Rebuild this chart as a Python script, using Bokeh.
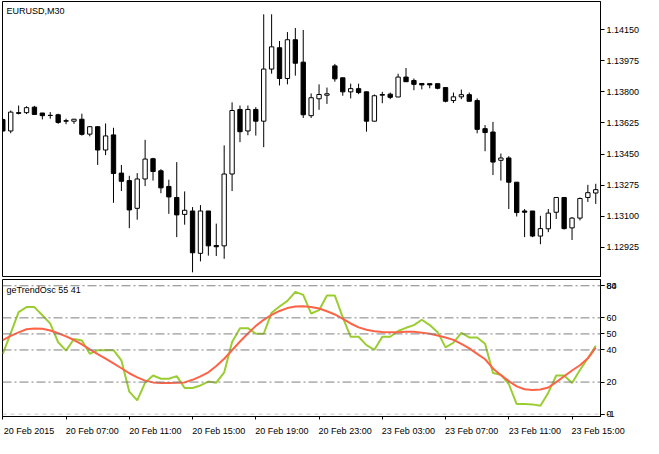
from bokeh.plotting import figure
from bokeh.layouts import column
from bokeh.models import (Range1d, FixedTicker, LinearAxis, Span, Label,
                          ColumnDataSource, PrintfTickFormatter)
from bokeh.embed import file_html
from bokeh.resources import INLINE

FONT = "Liberation Sans"

symbol_title = "EURUSD,M30"
osc_title = "geTrendOsc 55 41"

open_prices = [1.13644, 1.13580, 1.13683, 1.13683, 1.13714, 1.13681, 1.13668, 1.13671, 1.13638, 1.13635,
               1.13646, 1.13562, 1.13604, 1.13473, 1.13558, 1.13343, 1.13301, 1.13145, 1.13310, 1.13424,
               1.13356, 1.13268, 1.13206, 1.13111, 1.13130, 1.12892, 1.13130, 1.12936, 1.12934, 1.13338,
               1.13701, 1.13580, 1.13701, 1.13635, 1.13928, 1.14048, 1.13875, 1.14093, 1.13967, 1.13666,
               1.13761, 1.13781, 1.13946, 1.13879, 1.13800, 1.13818, 1.13800, 1.13635, 1.13781, 1.13787,
               1.13771, 1.13883, 1.13864, 1.13847, 1.13846, 1.13846, 1.13824, 1.13751, 1.13772, 1.13784,
               1.13751, 1.13593, 1.13574, 1.13415, 1.13428, 1.13292, 1.13130, 1.13130, 1.12989, 1.13030,
               1.13123, 1.13206, 1.13035, 1.13090, 1.13206, 1.13231]
high_prices = [1.13650, 1.13695, 1.13723, 1.13719, 1.13721, 1.13681, 1.13686, 1.13677, 1.13649, 1.13648,
               1.13677, 1.13607, 1.13605, 1.13622, 1.13598, 1.13389, 1.13328, 1.13343, 1.13530, 1.13429,
               1.13365, 1.13306, 1.13405, 1.13240, 1.13152, 1.13163, 1.13130, 1.13059, 1.13499, 1.13741,
               1.13723, 1.13723, 1.13714, 1.14236, 1.14236, 1.14086, 1.14136, 1.14159, 1.14148, 1.13791,
               1.13842, 1.13824, 1.13957, 1.13879, 1.13846, 1.13846, 1.13802, 1.13785, 1.13800, 1.13796,
               1.13902, 1.13934, 1.13875, 1.13847, 1.13846, 1.13846, 1.13824, 1.13796, 1.13813, 1.13796,
               1.13763, 1.13613, 1.13631, 1.13453, 1.13438, 1.13292, 1.13141, 1.13130, 1.13103, 1.13141,
               1.13206, 1.13206, 1.13096, 1.13206, 1.13277, 1.13283]
low_prices = [1.13575, 1.13567, 1.13673, 1.13675, 1.13672, 1.13645, 1.13649, 1.13620, 1.13618, 1.13620,
              1.13554, 1.13550, 1.13389, 1.13444, 1.13176, 1.13242, 1.13033, 1.13081, 1.13270, 1.13301,
              1.13230, 1.13114, 1.12983, 1.13053, 1.12785, 1.12847, 1.12879, 1.12877, 1.12861, 1.13242,
              1.13517, 1.13556, 1.13554, 1.13489, 1.13902, 1.13836, 1.13842, 1.13891, 1.13653, 1.13653,
              1.13699, 1.13732, 1.13857, 1.13778, 1.13763, 1.13787, 1.13576, 1.13634, 1.13736, 1.13759,
              1.13771, 1.13857, 1.13809, 1.13814, 1.13820, 1.13814, 1.13741, 1.13737, 1.13759, 1.13747,
              1.13567, 1.13466, 1.13332, 1.13301, 1.13141, 1.13099, 1.12983, 1.12983, 1.12943, 1.13011,
              1.13085, 1.13026, 1.12967, 1.13077, 1.13181, 1.13170]
close_prices = [1.13580, 1.13686, 1.13679, 1.13711, 1.13673, 1.13666, 1.13667, 1.13628, 1.13635, 1.13646,
                1.13561, 1.13604, 1.13473, 1.13552, 1.13341, 1.13297, 1.13136, 1.13310, 1.13422, 1.13352,
                1.13260, 1.13209, 1.13108, 1.13134, 1.12895, 1.13130, 1.12934, 1.12929, 1.13338, 1.13695,
                1.13576, 1.13701, 1.13635, 1.13928, 1.14053, 1.13875, 1.14093, 1.13961, 1.13671, 1.13767,
                1.13785, 1.13789, 1.13873, 1.13800, 1.13818, 1.13796, 1.13635, 1.13778, 1.13785, 1.13769,
                1.13883, 1.13857, 1.13842, 1.13839, 1.13839, 1.13820, 1.13747, 1.13772, 1.13784, 1.13747,
                1.13589, 1.13571, 1.13405, 1.13428, 1.13292, 1.13121, 1.13123, 1.12989, 1.13031, 1.13118,
                1.13206, 1.13031, 1.13090, 1.13200, 1.13233, 1.13250]

osc_fast = [37.6, 50.5, 63.6, 66.7, 66.7, 61.6, 56.4, 44.8, 39.6, 46.8,
            45.9, 37.6, 39.9, 39.9, 39.9, 33.5, 14.0, 8.6, 19.6, 24.1,
            22.1, 22.1, 23.7, 16.3, 16.3, 17.9, 20.3, 19.6, 26.0, 44.9,
            53.6, 53.6, 50.1, 50.1, 63.2, 67.1, 70.6, 76.2, 74.3, 62.7,
            64.8, 73.9, 73.9, 60.3, 48.2, 48.2, 43.0, 40.1, 48.2, 48.2,
            51.8, 53.8, 55.5, 58.8, 55.5, 51.1, 41.6, 44.5, 50.7, 47.8,
            47.8, 43.9, 25.6, 24.6, 18.8, 6.3, 6.3, 6.1, 5.3, 13.4,
            24.1, 24.1, 19.4, 27.5, 34.8, 42.6]
osc_slow = [46.2, 48.8, 51.0, 52.9, 53.4, 53.2, 52.1, 50.4, 48.5, 46.2,
            43.5, 40.4, 37.4, 34.6, 31.6, 28.6, 25.5, 22.9, 20.9, 19.8,
            19.4, 19.4, 19.5, 19.8, 21.4, 23.5, 26.1, 30.0, 34.5, 39.8,
            45.3, 50.3, 55.0, 58.8, 61.8, 64.3, 66.1, 67.1, 67.3, 66.8,
            65.8, 64.1, 62.1, 59.4, 56.5, 54.1, 52.6, 51.7, 51.2, 51.1,
            51.1, 51.4, 51.3, 50.8, 50.1, 49.0, 47.8, 46.3, 43.8, 41.0,
            37.6, 34.2, 28.5, 24.3, 20.6, 17.3, 15.5, 15.0, 15.4, 16.6,
            20.0, 23.6, 27.2, 30.5, 34.8, 41.5]

price_ticks = [1.14150, 1.13975, 1.13800, 1.13625, 1.13450, 1.13275, 1.13100, 1.12925]
osc_levels = [80, 60, 50, 40, 20]
osc_zero_level = 0
osc_ticks = [0, 20, 40, 50, 60, 80]
osc_window_max = 83.9
osc_window_min = -1.45
osc_max_label = "84"
osc_min_label = "-1"
time_labels = ["20 Feb 2015", "20 Feb 07:00", "20 Feb 11:00", "20 Feb 15:00", "20 Feb 19:00",
               "20 Feb 23:00", "23 Feb 03:00", "23 Feb 07:00", "23 Feb 11:00", "23 Feb 15:00"]
time_label_bars = [0, 8, 16, 24, 32, 40, 48, 56, 64, 72]

n = len(open_prices)
bars = list(range(n))
up = [c >= o for o, c in zip(open_prices, close_prices)]
src = ColumnDataSource(dict(
    x=bars, high=high_prices, low=low_prices,
    top=[max(o, c) for o, c in zip(open_prices, close_prices)],
    bottom=[min(o, c) for o, c in zip(open_prices, close_prices)],
    fill=["white" if u else "black" for u in up],
))

W = 643
x_range = Range1d(-0.04, 75.6)

# ---------- price panel ----------
p1 = figure(width=W, height=277, x_range=x_range, y_range=Range1d(1.12756, 1.14308),
            output_backend="svg", toolbar_location=None, x_axis_location=None,
            y_axis_location="right", min_border_left=2, min_border_right=43,
            min_border_top=1, min_border_bottom=0)
p1.grid.visible = False
p1.outline_line_color = "black"
p1.background_fill_color = "white"
p1.border_fill_color = "white"
ya = p1.yaxis[0]
ya.ticker = FixedTicker(ticks=price_ticks)
ya.formatter = PrintfTickFormatter(format="%.5f")
ya.major_tick_out = 4
ya.major_tick_in = 0
ya.minor_tick_out = 0
ya.minor_tick_in = 0
ya.axis_line_color = "black"
ya.major_tick_line_color = "black"
ya.major_label_text_font = FONT
ya.major_label_text_font_size = "9px"
ya.major_label_text_color = "black"
ya.major_label_standoff = 2

p1.segment(x0="x", y0="low", x1="x", y1="high", source=src, line_color="black", line_width=1)
p1.vbar(x="x", top="top", bottom="bottom", width=0.55, source=src,
        fill_color="fill", line_color="black", line_width=1)
p1.add_layout(Label(x=x_range.start, y=1.14308, x_offset=4, y_offset=-4, text=symbol_title,
                    text_baseline="top", text_align="left", text_font=FONT,
                    text_font_size="9px", text_color="black"))

# ---------- oscillator panel ----------
p2 = figure(width=W, height=161, x_range=x_range, y_range=Range1d(osc_window_min, osc_window_max),
            output_backend="svg", toolbar_location=None, x_axis_location=None,
            y_axis_location="right", min_border_left=2, min_border_right=43,
            min_border_top=2, min_border_bottom=0)
p2.grid.visible = False
p2.outline_line_color = "black"
p2.background_fill_color = "white"
p2.border_fill_color = "white"
ya2 = p2.yaxis[0]
max_tick = osc_levels[0] + 0.001
min_tick = osc_zero_level - 0.001
ya2.ticker = FixedTicker(ticks=osc_ticks + [max_tick, min_tick])
ya2.major_label_overrides = {max_tick: osc_max_label, min_tick: osc_min_label}
ya2.major_tick_out = 4
ya2.major_tick_in = 0
ya2.minor_tick_out = 0
ya2.minor_tick_in = 0
ya2.axis_line_color = "black"
ya2.major_label_text_font = FONT
ya2.major_label_text_font_size = "9px"
ya2.major_label_text_color = "black"
ya2.major_label_standoff = 2

for lv in osc_levels:
    p2.add_layout(Span(location=lv, dimension="width", line_color="#808080",
                       line_width=1, line_dash="9 3 2 3"))
p2.add_layout(Span(location=osc_zero_level, dimension="width", line_color="#C8C8C8",
                   line_width=1, line_dash="4 4"))

p2.line(bars, osc_fast, line_color="#9ACD32", line_width=2)
p2.line(bars, osc_slow, line_color="#FF6347", line_width=2)

p2.add_layout(Label(x=x_range.start, y=osc_window_max, x_offset=4, y_offset=-5, text=osc_title,
                    text_baseline="top", text_align="left", text_font=FONT,
                    text_font_size="9px", text_color="black"))

# time axis: tick marks (minor ticks) at the bars, labels starting at the tick marks
label_shift = 3.3
shifted = [b + label_shift for b in time_label_bars]
time_axis = LinearAxis(ticker=FixedTicker(ticks=shifted, minor_ticks=time_label_bars),
                       major_tick_out=0, major_tick_in=0,
                       minor_tick_out=3, minor_tick_in=0, minor_tick_line_color="black",
                       axis_line_color="black",
                       major_label_overrides={s: t for s, t in zip(shifted, time_labels)},
                       major_label_text_font=FONT, major_label_text_font_size="9px",
                       major_label_text_color="black", major_label_standoff=6)
p2.add_layout(time_axis, "below")

layout = column(p1, p2, spacing=0)
open("out.html", "w").write(file_html(layout, INLINE))
